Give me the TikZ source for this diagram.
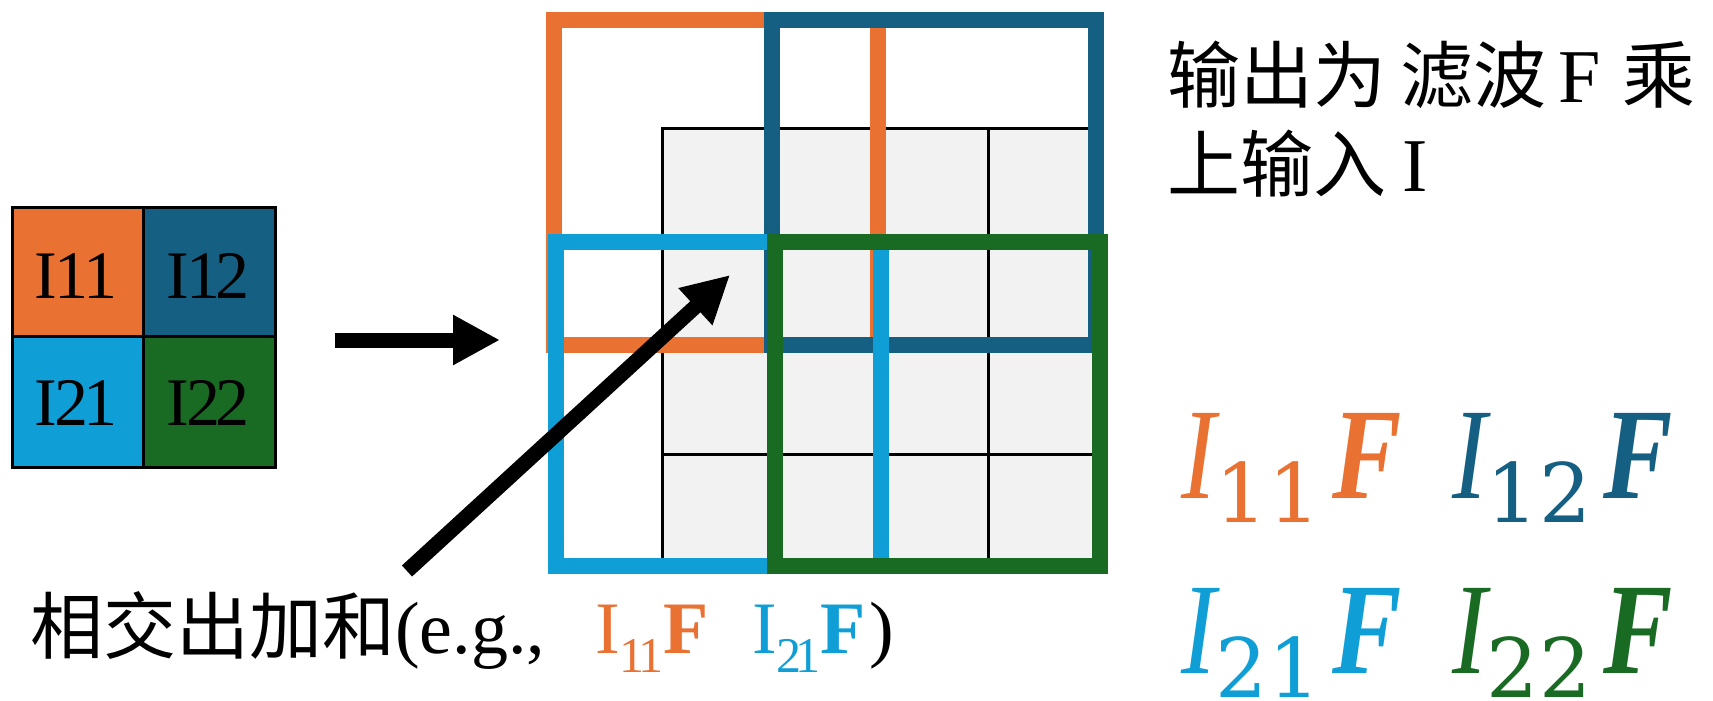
\documentclass[tikz,border=0pt]{standalone}
\usepackage{fontspec}
\setmainfont{Liberation Serif}
\newfontfamily\cjk{Noto Sans CJK SC}
\newfontfamily\dvs{DejaVu Serif}
\usetikzlibrary{arrows.meta}
\definecolor{cOr}{HTML}{E97132}
\definecolor{cDb}{HTML}{156082}
\definecolor{cLb}{HTML}{0F9ED5}
\definecolor{cGr}{HTML}{196B24}
\definecolor{cGy}{HTML}{F2F2F2}
\newcommand{\setfs}[1]{\fontsize{#1pt}{#1pt}\selectfont}
\newcommand{\bigterm}[1]{\setfs{130}\scalebox{0.8}[1]{\itshape I}\raisebox{-24pt}{\dvs\setfs{82}#1}\kern12pt\scalebox{0.8}[1]{\bfseries\itshape F}}
\begin{document}
\begin{tikzpicture}[x=1pt,y=-1pt,
  txt/.style={inner sep=0pt, anchor=base west},
  lbl/.style={inner sep=0pt, anchor=base, font=\setfs{68}},
  gridln/.style={line width=3pt, draw=black, line cap=rect},
  win/.style={line width=16pt, line join=miter},
  bigarrow/.style={line width=15pt, draw=black, -{Triangle[length=47pt,width=47pt]}}]
\useasboundingbox (0,0) rectangle (1713,701);

% left 2x2 input
\fill[cOr] (12,207) rectangle (143,336);
\fill[cDb] (143,207) rectangle (275,336);
\fill[cLb] (12,336) rectangle (143,467);
\fill[cGr] (143,336) rectangle (275,467);
\draw[line width=3pt] (12,207) rectangle (275,467);
\draw[line width=3pt] (143,207) -- (143,467);
\draw[line width=3pt] (12,336) -- (275,336);
\node[lbl] (i11) at (76,298) {I\kern-2pt 1\kern-5pt 1};
\node[lbl] (i12) at (208,298) {I\kern-2pt 1\kern-5pt 2};
\node[lbl] (i21) at (76,425) {I\kern-2pt 2\kern-5pt 1};
\node[lbl] (i22) at (208,425) {I\kern-2pt 2\kern-5pt 2};

% gray output grid
\fill[cGy] (662.5,128.5) rectangle (1096.5,562.5);
\foreach \i in {0,...,4} {
  \draw[gridln] ({662.5+108.5*\i},128.5) -- ({662.5+108.5*\i},562.5);
  \draw[gridln] (662.5,{128.5+108.5*\i}) -- (1096.5,{128.5+108.5*\i});
}

% coloured windows
\draw[win, cOr] (554,20) rectangle (878,344.5);
\draw[win, cDb] (771.5,20) rectangle (1096,344.5);
\draw[win, cLb] (556,242) rectangle (881,566);
\draw[win, cGr] (775,242) rectangle (1100,566);

% arrows
\coordinate (ra0) at (335,340);
\coordinate (ra1) at (500,340);
\draw[bigarrow] (ra0) -- (ra1);
\coordinate (da0) at (407,571);
\coordinate (da1) at (730,275);
\draw[bigarrow] (da0) -- (da1);

% top right text
\node[txt] (t1) at (1167,102) {\setfs{76}{\cjk\setfs{73}输出为}\hspace{14pt}{\cjk\setfs{73}滤波}\hspace{12pt}F\hspace{22pt}{\cjk\setfs{73}乘}};
\node[txt] (t2) at (1167,191) {\setfs{76}{\cjk\setfs{73}上输入}\hspace{16pt}I};

% big products
\node[txt, text=cOr] (r11) at (1181,498) {\bigterm{11}};
\node[txt, text=cDb] (r12) at (1452,498) {\bigterm{12}};
\node[txt, text=cLb] (r21) at (1181,673) {\bigterm{21}};
\node[txt, text=cGr] (r22) at (1452,673) {\bigterm{22}};

% bottom caption
\node[txt] (b1) at (30,653) {\setfs{74}{\cjk\setfs{73}相交出加和}(e.g.,};
\node[txt, text=cOr] (b2) at (595,653) {\setfs{74}I\raisebox{-19pt}{\setfs{50}1\kern-6pt 1}\textbf{F}};
\node[txt, text=cLb] (b3) at (752,653) {\setfs{74}I\raisebox{-19pt}{\setfs{50}2\kern-6pt 1}\textbf{F}};
\node[txt] (b4) at (869,653) {\setfs{74})};
\end{tikzpicture}
\end{document}
